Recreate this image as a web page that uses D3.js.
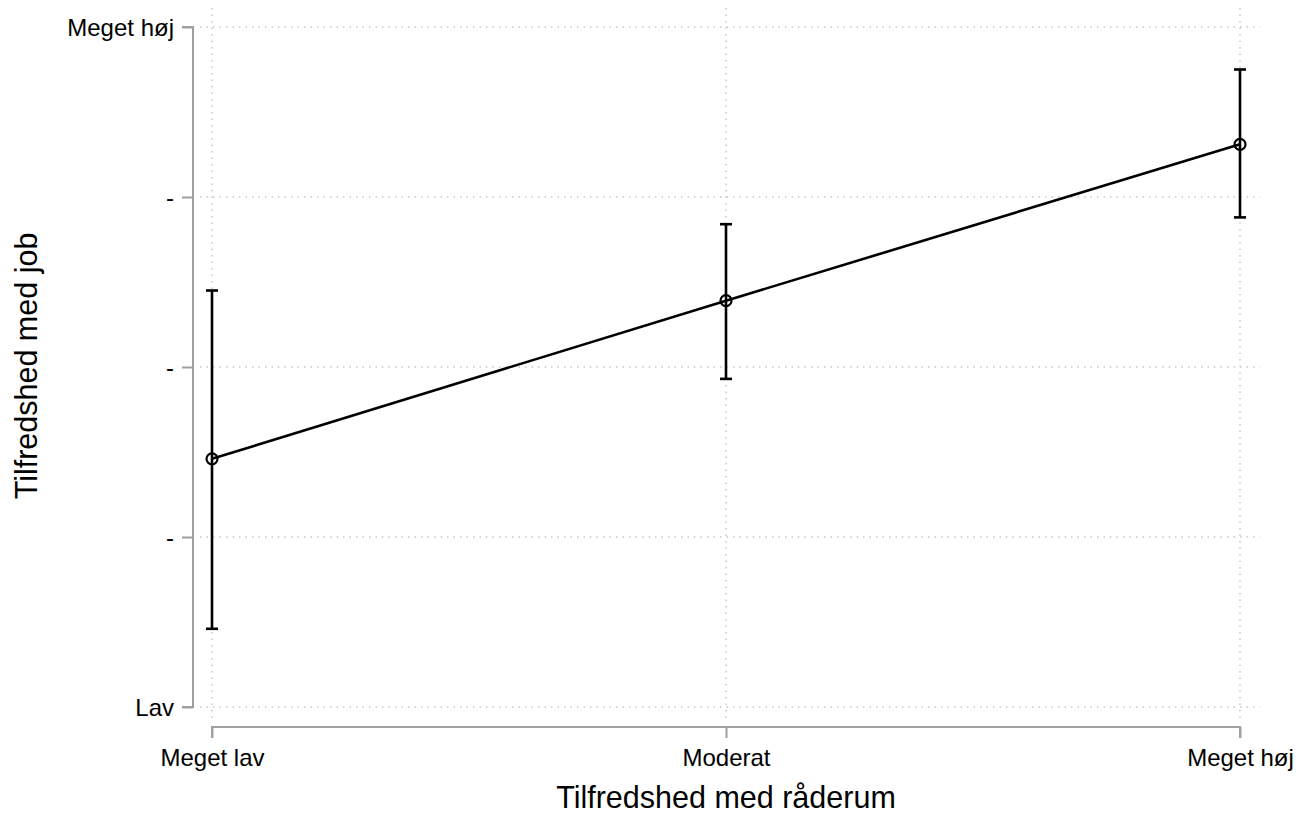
<!DOCTYPE html>
<html>
<head>
<meta charset="utf-8">
<script src="https://cdn.jsdelivr.net/npm/d3@7"></script>
<style>
  body { margin: 0; background: #fff; }
  svg { display: block; font-family: Arial, "Liberation Sans", sans-serif; }
</style>
</head>
<body>
<svg id="chart" width="1308" height="816"></svg>
<script>
// data
const categories = ["Meget lav", "Moderat", "Meget høj"];
const means = [2.46, 3.39, 4.31];
const ciLow = [1.46, 2.93, 3.88];
const ciHigh = [3.45, 3.84, 4.75];
const yTicks = [1, 2, 3, 4, 5];
const yTickLabels = ["Lav", "-", "-", "-", "Meget høj"];

const svg = d3.select("#chart");

const x = d3.scalePoint().domain(categories).range([212, 1240]);
const y = d3.scaleLinear().domain([1, 5]).range([707, 27]);

const gridColor = "#c8c8c8";
const axisColor = "#a0a0a0";

// grid
const grid = svg.append("g");
grid.selectAll(".hgrid")
    .data(yTicks)
    .join("line")
    .attr("x1", 200).attr("x2", 1260)
    .attr("y1", d => y(d)).attr("y2", d => y(d))
    .attr("stroke", gridColor)
    .attr("stroke-width", 1.5)
    .attr("stroke-dasharray", "1.5,5");

grid.selectAll(".vgrid")
    .data(categories)
    .join("line")
    .attr("x1", d => x(d)).attr("x2", d => x(d))
    .attr("y1", 8).attr("y2", 718)
    .attr("stroke", gridColor)
    .attr("stroke-width", 1.5)
    .attr("stroke-dasharray", "1.5,5");

// y axis
const yAxis = d3.axisLeft(y)
    .tickValues(yTicks)
    .tickFormat((d, i) => yTickLabels[i])
    .tickSize(11)
    .tickPadding(8);

const gy = svg.append("g")
    .attr("transform", "translate(193,0)")
    .call(yAxis);
gy.select(".domain").attr("stroke", axisColor).attr("stroke-width", 2)
    .attr("d", `M-11,${y(5)}H0V${y(1)}H-11`);
gy.selectAll(".tick line").attr("stroke", axisColor).attr("stroke-width", 2);
gy.selectAll(".tick text")
    .attr("fill", "#000")
    .style("font-size", "24px")
    .attr("dy", "0.36em");

// x axis
const xAxis = d3.axisBottom(x)
    .tickSize(11)
    .tickPadding(8);

const gx = svg.append("g")
    .attr("transform", "translate(0,727)")
    .call(xAxis);
gx.select(".domain").attr("stroke", axisColor).attr("stroke-width", 2)
    .attr("d", `M${x(categories[0])},11V0H${x(categories[2])}V11`);
gx.selectAll(".tick line").attr("stroke", axisColor).attr("stroke-width", 2);
gx.selectAll(".tick text")
    .attr("fill", "#000")
    .style("font-size", "24px")
    .attr("dy", "0.85em");

// axis titles
svg.append("text")
    .attr("x", 726).attr("y", 808)
    .attr("text-anchor", "middle")
    .style("font-size", "30.5px")
    .text("Tilfredshed med råderum");

svg.append("text")
    .attr("transform", "translate(37,366) rotate(-90)")
    .attr("text-anchor", "middle")
    .style("font-size", "30.5px")
    .text("Tilfredshed med job");

// error bars
const bars = svg.append("g").attr("stroke", "#000").attr("stroke-width", 2.6);
categories.forEach((c, i) => {
    bars.append("line")
        .attr("x1", x(c)).attr("x2", x(c))
        .attr("y1", y(ciLow[i])).attr("y2", y(ciHigh[i]));
    [ciLow[i], ciHigh[i]].forEach(v => {
        bars.append("line")
            .attr("x1", x(c) - 6).attr("x2", x(c) + 6)
            .attr("y1", y(v)).attr("y2", y(v));
    });
});

// line
const line = d3.line()
    .x((d, i) => x(categories[i]))
    .y(d => y(d));

svg.append("path")
    .datum(means)
    .attr("d", line)
    .attr("fill", "none")
    .attr("stroke", "#000")
    .attr("stroke-width", 2.6);

// markers
svg.selectAll(".pt")
    .data(means)
    .join("circle")
    .attr("cx", (d, i) => x(categories[i]))
    .attr("cy", d => y(d))
    .attr("r", 5.5)
    .attr("fill", "none")
    .attr("stroke", "#000")
    .attr("stroke-width", 2.2);
</script>
</body>
</html>
